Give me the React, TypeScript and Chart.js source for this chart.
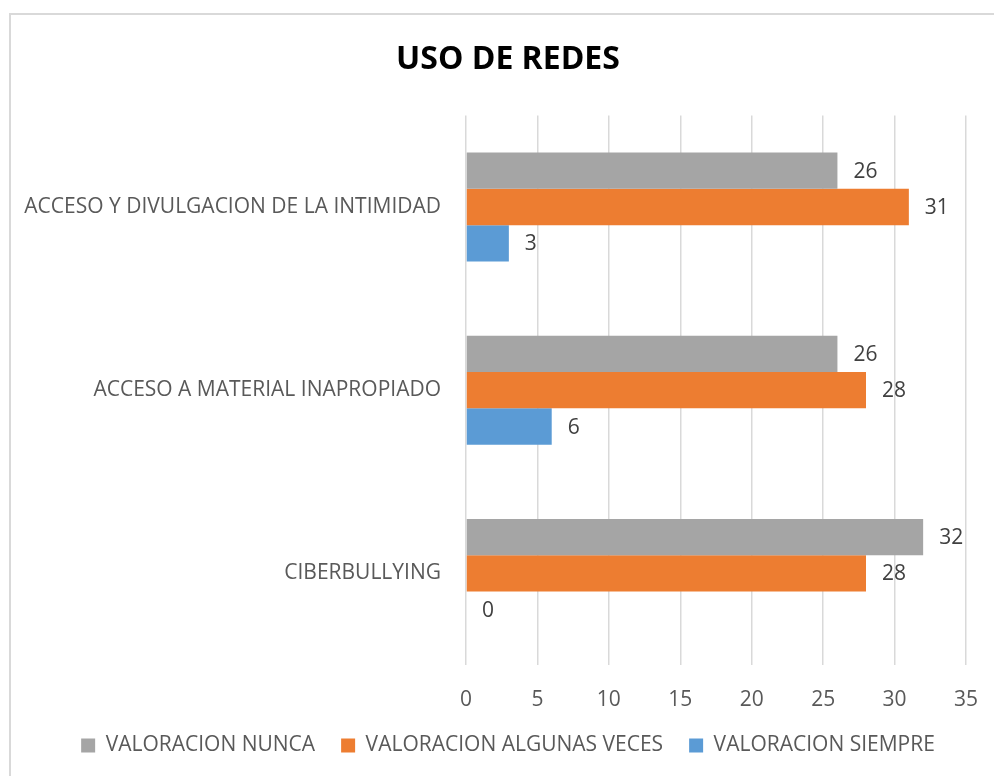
import React, { useEffect, useRef } from "react";
import { Chart, registerables } from "chart.js";

Chart.register(...registerables);

const categories: string[] = [
  "ACCESO Y DIVULGACION DE LA INTIMIDAD",
  "ACCESO A MATERIAL INAPROPIADO",
  "CIBERBULLYING",
];
const seriesNames: string[] = [
  "VALORACION NUNCA",
  "VALORACION ALGUNAS VECES",
  "VALORACION SIEMPRE",
];
const nuncaValues: number[] = [26, 26, 32];
const algunasVecesValues: number[] = [31, 28, 28];
const siempreValues: number[] = [3, 6, 0];
const seriesColors: string[] = ["#a5a5a5", "#ed7d31", "#5b9bd5"];
const xTickMin = 0;
const xTickMax = 35;
const xTickStep = 5;
const chartTitle = "USO DE REDES";

const FONT = "'Open Sans', 'Liberation Sans', sans-serif";

const valueLabelPlugin = {
  id: "valueLabels",
  afterLayout(chart: any) {
    // let long category labels extend left of the scale box without clipping
    if (chart.scales.y) chart.scales.y.left = 0;
  },
  afterDatasetsDraw(chart: any) {
    const ctx = chart.ctx;
    ctx.save();
    ctx.font = `21px ${FONT}`;
    ctx.fillStyle = "#404040";
    ctx.textAlign = "left";
    ctx.textBaseline = "middle";
    chart.data.datasets.forEach((ds: any, di: number) => {
      const meta = chart.getDatasetMeta(di);
      meta.data.forEach((bar: any, i: number) => {
        const v = ds.data[i];
        ctx.fillText(String(v), bar.x + 16, bar.y + 1);
      });
    });
    ctx.restore();
  },
};

export default function App() {
  const canvasRef = useRef<HTMLCanvasElement | null>(null);

  useEffect(() => {
    if (!canvasRef.current) return;
    const values = [nuncaValues, algunasVecesValues, siempreValues];
    const chart = new Chart(canvasRef.current, {
      type: "bar",
      data: {
        labels: categories,
        datasets: seriesNames.map((name, i) => ({
          label: name,
          data: values[i],
          backgroundColor: seriesColors[i],
          borderWidth: 0,
          categoryPercentage: 0.595,
          barPercentage: 1.0,
        })),
      },
      options: {
        indexAxis: "y",
        animation: false,
        responsive: false,
        maintainAspectRatio: false,
        devicePixelRatio: 1,
        layout: { padding: { left: 39, right: 39, top: 0, bottom: 10 } },
        plugins: {
          title: {
            display: true,
            text: chartTitle,
            color: "#000000",
            font: { family: FONT, size: 32, weight: "bold" },
            padding: { top: 26, bottom: 36 },
          },
          legend: {
            position: "bottom",
            labels: {
              boxWidth: 14,
              boxHeight: 14,
              padding: 26,
              color: "#595959",
              font: { family: FONT, size: 21 },
            },
          },
          tooltip: { enabled: false },
        },
        scales: {
          x: {
            min: xTickMin,
            max: xTickMax,
            ticks: {
              stepSize: xTickStep,
              color: "#595959",
              font: { family: FONT, size: 21 },
              padding: 22,
            },
            grid: { color: "#d9d9d9", lineWidth: 1.5, drawTicks: false },
            border: { display: false },
            afterFit: (scale: any) => {
              scale.height = 44;
            },
          },
          y: {
            ticks: {
              color: "#595959",
              font: { family: FONT, size: 21 },
              padding: 25,
            },
            grid: { display: false, drawTicks: false },
            border: { display: false },
            afterFit: (scale: any) => {
              scale.width = 416;
            },
          },
        },
      },
      plugins: [valueLabelPlugin],
    });
    return () => chart.destroy();
  }, []);

  return (
    <div
      style={{
        position: "fixed",
        left: 0,
        top: 0,
        width: 994,
        height: 776,
        overflow: "hidden",
        background: "#ffffff",
      }}
    >
      <div
        style={{
          position: "absolute",
          left: 9,
          top: 13,
          width: 1020,
          height: 800,
          border: "2px solid #d9d9d9",
          boxSizing: "border-box",
        }}
      >
        <canvas
          ref={canvasRef}
          width={994}
          height={761}
          style={{ position: "absolute", left: 0, top: 0, width: 994, height: 761 }}
        />
      </div>
    </div>
  );
}
